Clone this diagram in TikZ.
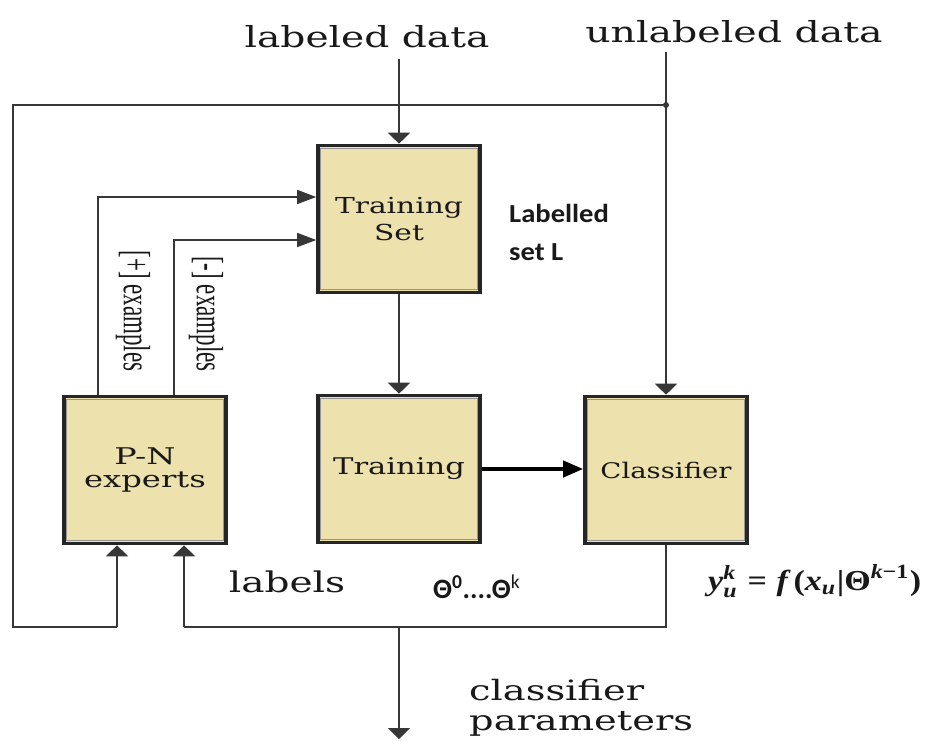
\documentclass[tikz,border=0pt]{standalone}
\usepackage{fontspec}
\usepackage{amsmath}
\usepackage{graphicx}
\usetikzlibrary{arrows.meta,calc}
\newfontfamily\dvserif{DejaVu Serif}
\newfontfamily\libserif{Liberation Serif}
\newfontfamily\carlito{Carlito}
\definecolor{boxfill}{RGB}{237,225,174}
\definecolor{boxline}{RGB}{38,38,38}
\definecolor{boxinner}{RGB}{150,150,150}
\definecolor{wirecol}{RGB}{55,55,55}
\definecolor{inkcol}{RGB}{25,25,25}
% horizontal stretch for the wide serif lettering
\newcommand\stretchx[2]{\scalebox{#1}[1]{#2}}
\newcommand\fsz[1]{\fontsize{#1}{#1}\selectfont}
% heavy serif pieces for the classifier output rule
\newcommand\bvar[1]{\text{\libserif\bfseries\itshape #1}}
\newcommand\bup[1]{\text{\libserif\bfseries #1}}
\newcommand\outputrule{$\bvar{y}^{\bvar{k}}_{\bvar{u}} \mathrel{\bup{=}}
  \bvar{f}\,\bup{(}\bvar{x}_{\bvar{u}}\bup{|}\bup{Θ}^{\bvar{k}\bup{−1}}\bup{)}$}

\begin{document}
\begin{tikzpicture}[x=1pt,y=-1pt,
  blockbox/.style={draw=boxline, line width=3.6pt, fill=boxfill,
    minimum width=162pt, minimum height=147pt, inner sep=0pt,
    align=center, text=inkcol,
    path picture={\draw[boxinner,line width=1pt]
      ([xshift=2.7pt,yshift=-2.7pt]path picture bounding box.north west) rectangle
      ([xshift=-2.7pt,yshift=2.7pt]path picture bounding box.south east);}},
  wire/.style={draw=wirecol, line width=1.5pt},
  varrow/.style={wire, -{Triangle[length=11pt,width=22pt]}},
  harrow/.style={wire, -{Triangle[length=19pt,width=14pt]}},
  boldarrow/.style={draw=black, line width=4pt, -{Triangle[length=20pt,width=16pt]}},
  txt/.style={inner sep=0pt, anchor=base, text=inkcol},
]
\useasboundingbox[fill=white] (0,0) rectangle (926,740);

% processing blocks
\node[blockbox] (tset) at (399,219)
  {\dvserif\fsz{22}\stretchx{1.35}{Training}\\[5pt]\dvserif\fsz{22}\stretchx{1.35}{Set}};
\node[blockbox] (train) at (399,469)
  {\dvserif\fsz{23}\stretchx{1.33}{Training}};
\node[blockbox] (clf) at (666,470)
  {\dvserif\fsz{21.5}\stretchx{1.28}{Classifier}};
\node[blockbox] (pn) at (145,470)
  {\dvserif\fsz{23}\stretchx{1.45}{P-N}\\[6pt]\dvserif\fsz{23}\stretchx{1.4}{experts}};

% routing points
\coordinate (ldsrc) at (399,59);
\coordinate (udsrc) at (666,52);
\coordinate (fb) at (666,105);
\coordinate (fbl) at (13,105);
\coordinate (lbl) at (13,627);
\coordinate (lbr) at (117,627);
\coordinate (pos) at (98,197);
\coordinate (neg) at (174,240);
\coordinate (clb) at (666,627);
\coordinate (mid) at (399,627);
\coordinate (rtn) at (184,627);
\coordinate (parout) at (399,739);

% connectors
\draw[varrow] (ldsrc) -- (tset.north);
\draw[varrow] (udsrc) -- (clf.north);
\draw[wire] (fb) -- (fbl) -- (lbl) -- (lbr);
\draw[varrow] (lbr) -- (pn.south -| lbr);
\fill[wirecol] (fb) circle (3pt);
\draw[harrow] (pn.north -| pos) -- (pos) -- (tset.west |- pos);
\draw[harrow] (pn.north -| neg) -- (neg) -- (tset.west |- neg);
\draw[varrow] (tset.south) -- (train.north);
\draw[boldarrow] (train.east) -- (clf.west |- train.east);
\draw[wire] (clf.south) -- (clb) -- (rtn);
\draw[varrow] (rtn) -- (pn.south -| rtn);
\draw[varrow] (mid) -- (parout);

% labels
\node[txt, font=\dvserif\fsz{29}] (ld) at (367,47) {\stretchx{1.35}{labeled data}};
\node[txt, font=\dvserif\fsz{29}] (ud) at (734,42) {\stretchx{1.36}{unlabeled data}};
\node[txt, anchor=base west, font=\carlito\bfseries\fsz{26}] (lsa) at (509,222) {\stretchx{1.1}{Labelled}};
\node[txt, anchor=base west, font=\carlito\bfseries\fsz{26}] (lsb) at (509,260) {\stretchx{1.1}{set L}};
\node[inner sep=0pt, rotate=-90, text=inkcol] (posl) at (133,311)
  {\scalebox{1}[1.65]{\libserif\fsz{23}[+] examples}};
\node[inner sep=0pt, rotate=-90, text=inkcol] (negl) at (206,314)
  {\scalebox{1}[1.65]{\libserif\fsz{23}[-] examples}};
\node[txt, font=\dvserif\fsz{28.5}] (lab) at (287,592) {\stretchx{1.37}{labels}};
\node[txt, anchor=base west, font=\carlito\bfseries\fsz{28}] (theta) at (433,598)
  {Θ\textsuperscript{0}....Θ\textsuperscript{\mdseries k}};
\node[txt, anchor=base west, font=\fsz{10}] (eq) at (708,590)
  {\scalebox{1}[0.85]{\resizebox{213pt}{!}{\outputrule}}};
\node[txt, anchor=base west, font=\dvserif\fsz{28}] (cpa) at (469,700) {\stretchx{1.37}{classifier}};
\node[txt, anchor=base west, font=\dvserif\fsz{28}] (cpb) at (469,730) {\stretchx{1.37}{parameters}};
\end{tikzpicture}
\end{document}
